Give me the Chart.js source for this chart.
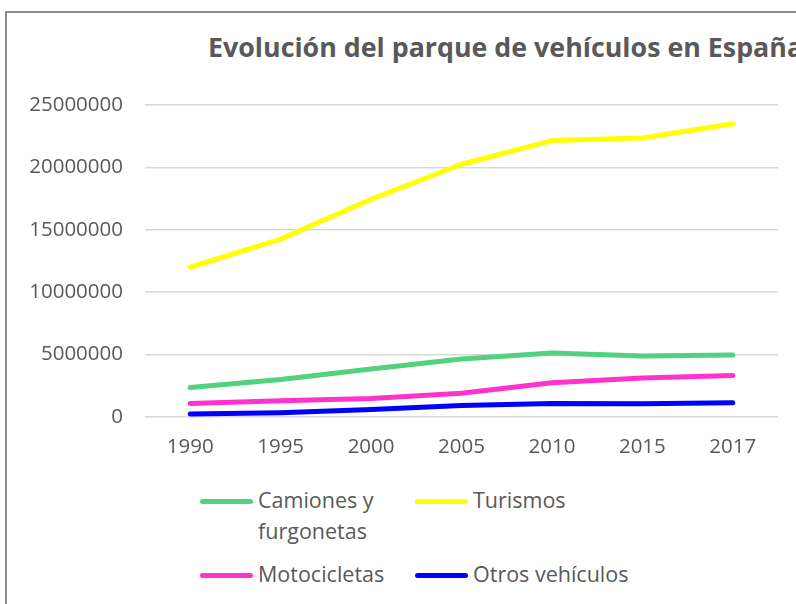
<!DOCTYPE html>
<html>
<head>
<meta charset="utf-8">
<script src="https://cdn.jsdelivr.net/npm/chart.js@4.4.1/dist/chart.umd.min.js"></script>
<style>
  body { margin: 0; background: #fff; overflow: hidden; }
  #wrap { position: relative; width: 796px; height: 604px; overflow: hidden; font-family: "Open Sans", sans-serif; color: #595959; }
  #frame { position: absolute; left: 5px; top: 11px; width: 900px; height: 700px; border: 2px solid #8c8c8c; box-sizing: border-box; }
  #title { position: absolute; left: 208px; top: 28px; font-size: 26.8px; font-weight: bold; white-space: nowrap; }
  #chartBox { position: absolute; left: 0; top: 0; width: 796px; height: 470px; }
  #legend { position: absolute; left: 200px; top: 484px; width: 440px; }
  .item { position: absolute; display: flex; align-items: flex-start; font-size: 21.5px; line-height: 31px; }
  .swatch { width: 53px; height: 5px; border-radius: 3px; margin-top: 15px; margin-right: 5px; flex: none; }
</style>
</head>
<body>
<div id="wrap">
  <div id="frame"></div>
  <div id="title">Evolución del parque de vehículos en España</div>
  <div id="chartBox"><canvas id="myChart"></canvas></div>
  <div id="legend"></div>
</div>
<script>
// --- DONNÉES ---
const years = ["1990", "1995", "2000", "2005", "2010", "2015", "2017"];
const camiones = [2370000, 3000000, 3850000, 4650000, 5130000, 4890000, 4960000];
const turismos = [12000000, 14250000, 17450000, 20250000, 22150000, 22360000, 23500000];
const motos = [1080000, 1300000, 1480000, 1900000, 2750000, 3120000, 3330000];
const otros = [240000, 350000, 600000, 920000, 1080000, 1060000, 1140000];
const yTicks = [0, 5000000, 10000000, 15000000, 20000000, 25000000];

const series = [
  { label: "Camiones y furgonetas", data: camiones, color: "#52d17f" },
  { label: "Turismos", data: turismos, color: "#ffff00" },
  { label: "Motocicletas", data: motos, color: "#ff33cc" },
  { label: "Otros vehículos", data: otros, color: "#0000ff" }
];

const textColor = "#595959";
const font = { family: "'Open Sans', sans-serif", size: 20.5 };

const ctx = document.getElementById('myChart').getContext('2d');
const myChart = new Chart(ctx, {
  type: 'line',
  data: {
    labels: years,
    datasets: series.map(s => ({
      label: s.label,
      data: s.data,
      borderColor: s.color,
      backgroundColor: s.color,
      borderWidth: 5,
      borderCapStyle: 'round',
      borderJoinStyle: 'round',
      pointRadius: 0,
      tension: 0
    }))
  },
  options: {
    responsive: true,
    maintainAspectRatio: false,
    animation: false,
    layout: { padding: { left: 0, right: 18, top: 105, bottom: 3 } },
    plugins: { legend: { display: false }, title: { display: false }, tooltip: { enabled: false } },
    scales: {
      x: {
        offset: true,
        grid: { display: false, drawTicks: false },
        border: { display: false },
        ticks: { color: textColor, font: font, padding: 18, maxRotation: 0 },
        afterFit: s => { s.height = 50; }
      },
      y: {
        min: 0,
        max: 25000000,
        afterBuildTicks: s => { s.ticks = yTicks.map(v => ({ value: v })); },
        grid: { color: "#d9d9d9", lineWidth: 1.5, drawTicks: false },
        border: { display: false },
        ticks: { color: textColor, font: font, padding: 22, callback: v => String(v) },
        afterFit: s => { s.width = 145; }
      }
    }
  }
});

// --- LÉGENDE ---
const legend = document.getElementById('legend');
const pos = [[0, 0], [215, 0], [0, 74], [215, 74]];
series.forEach((s, k) => {
  const it = document.createElement('div');
  it.className = 'item';
  it.style.left = pos[k][0] + 'px';
  it.style.top = pos[k][1] + 'px';
  it.style.width = (k % 2 === 0 ? 200 : 230) + 'px';
  it.innerHTML = `<span class="swatch" style="background:${s.color}"></span><span>${s.label.replace('Camiones y ', 'Camiones y<br>')}</span>`;
  legend.appendChild(it);
});
</script>
</body>
</html>
